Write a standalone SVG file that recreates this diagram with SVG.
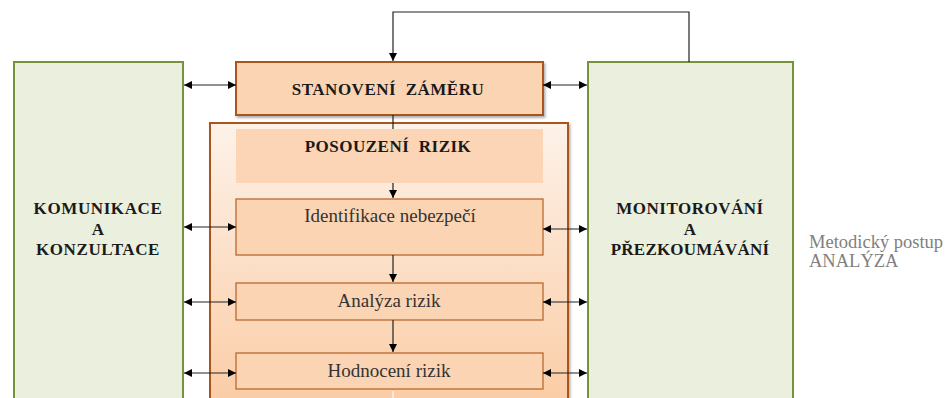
<svg xmlns="http://www.w3.org/2000/svg" width="948" height="398" viewBox="0 0 948 398">
<style>
.green{fill:#ebf0de;stroke:#77923c;stroke-width:2}
.box{fill:#fbd4b4;stroke:#b9692e;stroke-width:1.3}
.big{fill:#fbd4b4;stroke:#a9541e;stroke-width:2}
.hb{font-family:"Liberation Serif",serif;font-weight:bold;font-size:17px;fill:#1a1a1a;text-anchor:middle;white-space:pre}
.t{font-family:"Liberation Serif",serif;font-size:19px;fill:#333;text-anchor:middle}
.note{font-family:"Liberation Serif",serif;font-size:18.5px;fill:#808080}
.c{stroke:#222;stroke-width:1.2;fill:none}
</style>
<defs>
<marker id="ah" viewBox="0 0 10 10" refX="10" refY="5" markerWidth="8" markerHeight="8" markerUnits="userSpaceOnUse" orient="auto-start-reverse">
<path d="M0,0 L10,5 L0,10 z" fill="#000"/>
</marker>
<linearGradient id="gr" x1="0" y1="0" x2="0" y2="1">
<stop offset="0" stop-color="#fdf2e9"/>
<stop offset="1" stop-color="#fbcba3"/>
</linearGradient>
<filter id="sh" x="-5%" y="-10%" width="110%" height="130%">
<feDropShadow dx="1.5" dy="2" stdDeviation="1" flood-color="#000" flood-opacity="0.3"/>
</filter>
</defs>
<g id="komunikace">
<rect class="green" x="14" y="62" width="169" height="345"/>
<text class="hb" x="98" y="214" letter-spacing="0.6">KOMUNIKACE</text>
<text class="hb" x="98" y="235">A</text>
<text class="hb" x="98" y="255" letter-spacing="0.6">KONZULTACE</text>
</g>
<g id="monitorovani">
<rect class="green" x="588" y="62" width="205" height="345"/>
<text class="hb" x="690" y="214" letter-spacing="0.5">MONITOROVÁNÍ</text>
<text class="hb" x="690" y="235">A</text>
<text class="hb" x="690" y="255" letter-spacing="0.2">PŘEZKOUMÁVÁNÍ</text>
</g>
<g id="stanoveni">
<rect class="big" x="236" y="62" width="307" height="53" filter="url(#sh)"/>
<text class="hb" x="388" y="95" xml:space="preserve" letter-spacing="0.5">STANOVENÍ  ZÁMĚRU</text>
</g>
<g id="posouzeni">
<rect x="210" y="123" width="358" height="290" fill="url(#gr)" stroke="#a9541e" stroke-width="2" filter="url(#sh)"/>
<rect x="236" y="129" width="307" height="54" fill="#fbd5b6"/>
<text class="hb" x="388" y="152" xml:space="preserve" letter-spacing="0.5">POSOUZENÍ  RIZIK</text>
</g>
<g id="identifikace">
<rect class="box" x="236" y="199" width="307" height="56"/>
<text class="t" x="390" y="222">Identifikace nebezpečí</text>
</g>
<g id="analyza">
<rect class="box" x="236" y="283" width="307" height="37"/>
<text class="t" x="389" y="307">Analýza rizik</text>
</g>
<g id="hodnoceni">
<rect class="box" x="236" y="353" width="307" height="36"/>
<text class="t" x="389" y="377">Hodnocení rizik</text>
</g>
<g id="connectors">
<path class="c" d="M689,62 V12 H393 V61" stroke="#555" marker-end="url(#ah)"/>
<line class="c" x1="393" y1="115" x2="393" y2="129"/>
<line class="c" x1="393" y1="183" x2="393" y2="198" marker-end="url(#ah)"/>
<line class="c" x1="393" y1="255" x2="393" y2="282" marker-end="url(#ah)"/>
<line class="c" x1="393" y1="320" x2="393" y2="352" marker-end="url(#ah)"/>
<line x1="393" y1="391" x2="393" y2="398" stroke="#fff" stroke-width="1"/>
<line class="c" x1="184" y1="85" x2="236" y2="85" marker-start="url(#ah)" marker-end="url(#ah)"/>
<line class="c" x1="184" y1="227" x2="236" y2="227" marker-start="url(#ah)" marker-end="url(#ah)"/>
<line class="c" x1="184" y1="302" x2="236" y2="302" marker-start="url(#ah)" marker-end="url(#ah)"/>
<line class="c" x1="184" y1="373" x2="236" y2="373" marker-start="url(#ah)" marker-end="url(#ah)"/>
<line class="c" x1="543" y1="85" x2="587" y2="85" marker-start="url(#ah)" marker-end="url(#ah)"/>
<line class="c" x1="543" y1="229" x2="587" y2="229" marker-start="url(#ah)" marker-end="url(#ah)"/>
<line class="c" x1="543" y1="302" x2="587" y2="302" marker-start="url(#ah)" marker-end="url(#ah)"/>
<line class="c" x1="543" y1="373" x2="587" y2="373" marker-start="url(#ah)" marker-end="url(#ah)"/>
</g>
<text class="note" x="809" y="248">Metodický postup</text>
<text class="note" x="809" y="267">ANALÝZA</text>
</svg>
